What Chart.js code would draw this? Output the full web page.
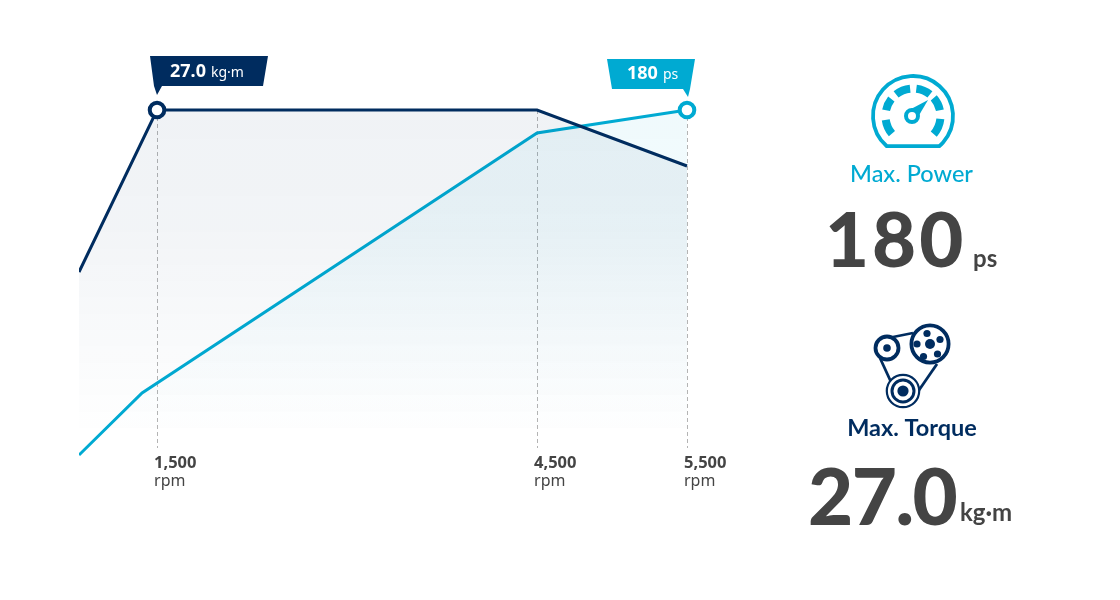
<!DOCTYPE html>
<html>
<head>
<meta charset="utf-8">
<style>
  html, body { margin: 0; padding: 0; background: #fff; }
  canvas { display: block; }
</style>
<script src="https://cdn.jsdelivr.net/npm/chart.js@4/dist/chart.umd.js"></script>
</head>
<body>
<canvas id="grafico" width="1120" height="600"></canvas>
<script>
// ==================================== DATA ====================================
const rpmTicks = [1500, 4500, 5500];
const rpmUnit = "rpm";

const torqueRpm = [884, 1500, 4500, 5500];
const torqueValues = [14.85, 27, 27, 22.8];
const powerRpm = [884, 1382, 4500, 5500];
const powerValues = [7.5, 38.5, 168.5, 180];

const maxPower = "180";
const powerUnit = "ps";
const powerTitle = "Max. Power";
const maxTorque = "27.0";
const torqueUnit = "kg·m";
const torqueTitle = "Max. Torque";

const NAVY = "#002c5f";
const CYAN = "#00aad2";
const GREY = "#444444";
const TICK_FONT = '"Noto Sans"';
const SIDE_FONT = "Lato";

// ==================================== AXIS ====================================
// the picture's rpm axis is wider above 4,500, so it is stretched from there on
const stretch = (v) => (v <= 4500 ? v : 4500 + (v - 4500) * 1.184);

class RpmScale extends Chart.LinearScale {
  static id = "rpm";
  static defaults = {};
  getPixelForValue(v) {
    return super.getPixelForValue(stretch(v));
  }
}
Chart.register(RpmScale);

const toPoints = (xs, ys) => xs.map((x, i) => ({ x: x, y: ys[i] }));

function fade(context, rgb) {
  const area = context.chart.chartArea;
  if (!area) return "transparent";
  const g = context.chart.ctx.createLinearGradient(0, 110, 0, 436);
  g.addColorStop(0, "rgba(" + rgb + ",0.06)");
  g.addColorStop(0.35, "rgba(" + rgb + ",0.05)");
  g.addColorStop(1, "rgba(" + rgb + ",0)");
  return g;
}

// ==================================== PLUGINS =================================
const rpmGuides = {
  id: "rpmGuides",
  beforeDatasetsDraw(chart) {
    const { ctx, scales } = chart;
    const top = scales.yTorque.getPixelForValue(27);
    ctx.save();
    ctx.strokeStyle = "#b4b4b4";
    ctx.lineWidth = 1;
    ctx.setLineDash([4, 3]);
    rpmTicks.forEach((t) => {
      const x = Math.round(scales.x.getPixelForValue(t)) + 0.5;
      ctx.beginPath();
      ctx.moveTo(x, top);
      ctx.lineTo(x, 448);
      ctx.stroke();
    });
    ctx.restore();
  },
  afterDraw(chart) {
    const { ctx, scales } = chart;
    ctx.save();
    ctx.fillStyle = GREY;
    ctx.textAlign = "left";
    rpmTicks.forEach((t) => {
      const x = scales.x.getPixelForValue(t) - 3;
      ctx.font = "bold 16.5px " + TICK_FONT;
      ctx.fillText(t.toLocaleString("en-US"), x, 468);
      ctx.font = "16px " + TICK_FONT;
      ctx.fillText(rpmUnit, x, 486);
    });
    ctx.restore();
  },
};

function flag(ctx, pts, color, big, small, textX, textY) {
  ctx.fillStyle = color;
  ctx.beginPath();
  pts.forEach((p, i) => (i ? ctx.lineTo(p[0], p[1]) : ctx.moveTo(p[0], p[1])));
  ctx.closePath();
  ctx.fill();
  ctx.fillStyle = "#fff";
  ctx.textAlign = "left";
  ctx.font = "bold 18px " + TICK_FONT;
  ctx.fillText(big, textX, textY);
  const w = ctx.measureText(big).width;
  ctx.font = "14px " + TICK_FONT;
  ctx.fillText(small, textX + w + 5, textY);
}

const callouts = {
  id: "callouts",
  afterDraw(chart) {
    const ctx = chart.ctx;
    ctx.save();
    flag(ctx, [[150, 56], [268, 56], [263, 86], [162, 86], [157, 95], [154, 86]], NAVY, maxTorque, torqueUnit, 170, 77);
    flag(ctx, [[607, 59], [695, 59], [690, 89], [688, 97], [683, 89], [612, 89]], CYAN, maxPower, powerUnit, 627, 79);
    ctx.restore();
  },
};

function arcDeg(ctx, cx, cy, r, a, b) {
  ctx.beginPath();
  ctx.arc(cx, cy, r, ((a - 90) * Math.PI) / 180, ((b - 90) * Math.PI) / 180);
  ctx.stroke();
}

function circle(ctx, cx, cy, r, fill) {
  ctx.beginPath();
  ctx.arc(cx, cy, r, 0, Math.PI * 2);
  if (fill) ctx.fill();
  else ctx.stroke();
}

function segment(ctx, x1, y1, x2, y2) {
  ctx.beginPath();
  ctx.moveTo(x1, y1);
  ctx.lineTo(x2, y2);
  ctx.stroke();
}

function gaugeIcon(ctx) {
  ctx.strokeStyle = CYAN;
  ctx.fillStyle = CYAN;
  ctx.lineWidth = 3.8;
  ctx.beginPath();
  ctx.arc(913, 116, 40, Math.PI - 0.85, 0.85);
  ctx.lineTo(913 - 40 * Math.cos(0.85), 116 + 40 * Math.sin(0.85));
  ctx.closePath();
  ctx.stroke();
  ctx.lineWidth = 8;
  [[-130, -98], [-78, -52], [-38, -6], [7, 38], [49, 78], [96, 131]].forEach((s) => arcDeg(ctx, 913, 116, 27.5, s[0], s[1]));
  ctx.beginPath();
  ctx.moveTo(928, 100);
  ctx.lineTo(911, 109);
  ctx.lineTo(918, 117);
  ctx.closePath();
  ctx.fill();
  ctx.lineWidth = 4;
  ctx.fillStyle = "#fff";
  circle(ctx, 912, 116, 6, true);
  circle(ctx, 912, 116, 6);
}

function beltIcon(ctx) {
  ctx.strokeStyle = NAVY;
  ctx.fillStyle = NAVY;
  ctx.lineWidth = 2.8;
  segment(ctx, 893, 337, 913, 333);
  segment(ctx, 880, 358, 891, 382);
  segment(ctx, 937, 364, 917, 393);
  ctx.lineWidth = 3.8;
  circle(ctx, 887, 348, 11.5);
  circle(ctx, 887, 348, 3.8, true);
  circle(ctx, 930, 344, 18.6);
  circle(ctx, 930, 344, 5, true);
  [[-3, -10.5], [10, -4.5], [7.5, 10], [-6.5, 12.5], [-13, 0]].forEach((h) => circle(ctx, 930 + h[0], 344 + h[1], 3.6, true));
  ctx.lineWidth = 2.2;
  ctx.save();
  ctx.fillStyle = "#fff";
  circle(ctx, 903, 391, 16.2, true);
  ctx.restore();
  circle(ctx, 903, 391, 16.2);
  ctx.lineWidth = 3;
  circle(ctx, 903, 391, 11);
  circle(ctx, 903, 391, 5.6, true);
}

const sidePanel = {
  id: "sidePanel",
  afterDraw(chart) {
    const ctx = chart.ctx;
    ctx.save();
    gaugeIcon(ctx);
    beltIcon(ctx);
    ctx.textAlign = "center";
    ctx.fillStyle = CYAN;
    ctx.font = "500 23.5px " + SIDE_FONT;
    ctx.fillText(powerTitle, 911.5, 182);
    ctx.fillStyle = NAVY;
    ctx.font = "bold 23.5px " + SIDE_FONT;
    ctx.fillText(torqueTitle, 912, 436);
    ctx.textAlign = "left";
    ctx.fillStyle = GREY;
    ctx.font = "900 76px " + SIDE_FONT;
    ctx.letterSpacing = "3px";
    ctx.fillText(maxPower, 825, 267);
    ctx.font = "900 78px " + SIDE_FONT;
    ctx.letterSpacing = "-1.5px";
    ctx.fillText(maxTorque, 808, 525);
    ctx.letterSpacing = "0px";
    ctx.font = "bold 24px " + SIDE_FONT;
    ctx.fillText(powerUnit, 973, 267);
    ctx.fillText(torqueUnit, 960, 521);
    ctx.restore();
  },
};

// ==================================== GRAFICO =================================
const config = {
  type: "line",
  data: {
    datasets: [
      {
        label: "Max. Torque",
        data: toPoints(torqueRpm, torqueValues),
        yAxisID: "yTorque",
        borderColor: NAVY,
        borderWidth: 3,
        tension: 0,
        fill: "origin",
        backgroundColor: (c) => fade(c, "0,44,95"),
        pointRadius: (c) => (c.dataIndex === 1 ? 7.3 : 0),
        pointHoverRadius: 0,
        pointBackgroundColor: "#fff",
        pointBorderColor: NAVY,
        pointBorderWidth: 4,
        clip: { left: 0, top: false, right: false, bottom: false },
      },
      {
        label: "Max. Power",
        data: toPoints(powerRpm, powerValues),
        yAxisID: "yPower",
        borderColor: CYAN,
        borderWidth: 3,
        tension: 0,
        fill: "origin",
        backgroundColor: (c) => fade(c, "0,170,210"),
        pointRadius: (c) => (c.dataIndex === 3 ? 7.3 : 0),
        pointHoverRadius: 0,
        pointBackgroundColor: "#fff",
        pointBorderColor: CYAN,
        pointBorderWidth: 4,
        clip: { left: 0, top: false, right: false, bottom: false },
      },
    ],
  },
  options: {
    responsive: false,
    animation: false,
    events: [],
    layout: { padding: { left: 79, right: 433, top: 50, bottom: 130 } },
    plugins: { legend: { display: false }, tooltip: { enabled: false } },
    scales: {
      x: { type: "rpm", display: false, min: 884, max: 5684 },
      yTorque: { display: false, min: 0, max: 31.5 },
      yPower: { display: false, min: 0, max: 210 },
    },
  },
  plugins: [rpmGuides, callouts, sidePanel],
};

const grafico = new Chart(document.getElementById("grafico"), config);
</script>
</body>
</html>
